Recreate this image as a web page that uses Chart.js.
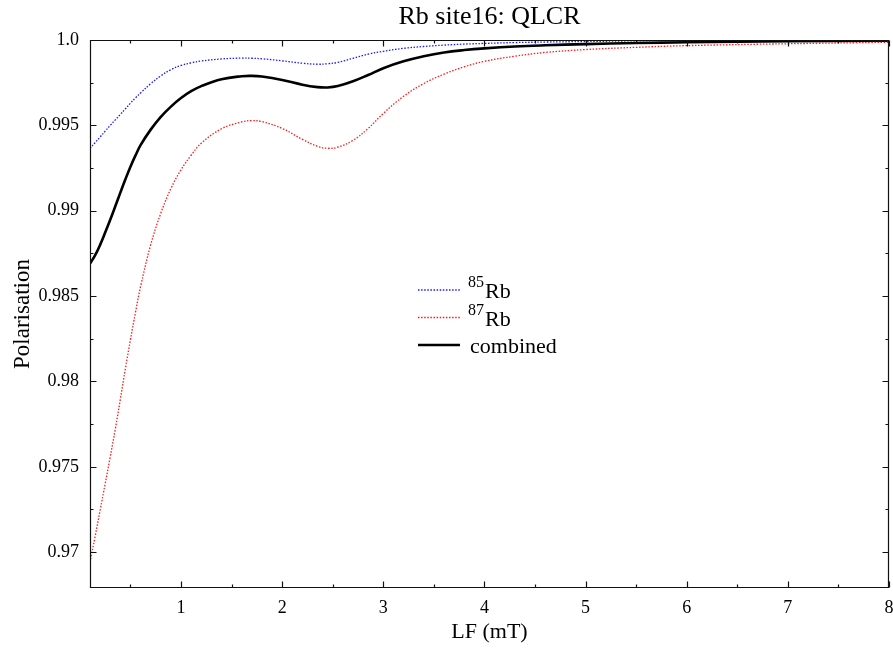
<!DOCTYPE html>
<html>
<head>
<meta charset="utf-8">
<title>Rb site16: QLCR</title>
<script src="https://cdn.jsdelivr.net/npm/chart.js@4.4.1/dist/chart.umd.min.js"></script>
<style>
  html, body { margin: 0; padding: 0; background: #fff; }
  canvas { display: block; }
</style>
</head>
<body>
<canvas id="chart" width="893" height="650"></canvas>
<script>
// Longitudinal field (mT) at which the polarisation curves are sampled
const fieldLF = [0.1, 0.15, 0.2, 0.25, 0.3, 0.35, 0.4, 0.45, 0.5, 0.55, 0.6, 0.7, 0.8, 0.9,
  1.0, 1.1, 1.2, 1.4, 1.6, 1.7, 1.8, 2.0, 2.2, 2.35, 2.45, 2.55, 2.7, 2.85, 3.0, 3.2, 3.4,
  3.6, 3.8, 4.0, 4.3, 4.6, 5.0, 5.5, 6.0, 7.0, 8.0];

// 85Rb polarisation
const rb85 = [0.99365, 0.99398, 0.99432, 0.99466, 0.99500, 0.99532, 0.99564, 0.99597, 0.99630,
  0.99661, 0.99690, 0.99744, 0.99790, 0.99826, 0.99851, 0.99866, 0.99877, 0.99889, 0.99894,
  0.99893, 0.99890, 0.99878, 0.99864, 0.99858, 0.99861, 0.99869, 0.99893, 0.99917, 0.99934,
  0.99951, 0.99962, 0.99970, 0.99976, 0.99980, 0.99985, 0.99988, 0.99991, 0.99995, 0.99997,
  0.99999, 1.00000];

// 87Rb polarisation
const rb87 = [0.96940, 0.97090, 0.97245, 0.97400, 0.97558, 0.97720, 0.97895, 0.98075, 0.98245,
  0.98405, 0.98555, 0.98800, 0.98985, 0.99130, 0.99240, 0.99325, 0.99395, 0.99480, 0.99520,
  0.99528, 0.99522, 0.99482, 0.99418, 0.99377, 0.99366, 0.99372, 0.99412, 0.99482, 0.99570,
  0.99670, 0.99745, 0.99800, 0.99843, 0.99875, 0.99905, 0.99927, 0.99944, 0.99957, 0.99967,
  0.99978, 0.99987];

// Abundance-weighted total
const combined = [0.98690, 0.98738, 0.98800, 0.98872, 0.98947, 0.99026, 0.99106, 0.99184, 0.99258,
  0.99324, 0.99384, 0.99475, 0.99550, 0.99610, 0.99660, 0.99700, 0.99730, 0.99770, 0.99788,
  0.99790, 0.99786, 0.99766, 0.99738, 0.99724, 0.99722, 0.99730, 0.99758, 0.99795, 0.99835,
  0.99875, 0.99905, 0.99927, 0.99941, 0.99951, 0.99962, 0.99969, 0.99976, 0.99982, 0.99987,
  0.99993, 0.99996];

// Axis ticks
const xTickValues = [1, 2, 3, 4, 5, 6, 7, 8];
const xTickLabels = ['1', '2', '3', '4', '5', '6', '7', '8'];
const xMinorTicks = [0.5, 1.5, 2.5, 3.5, 4.5, 5.5, 6.5, 7.5];
const yTickValues = [0.97, 0.975, 0.98, 0.985, 0.99, 0.995, 1.0];
const yTickLabels = ['0.97', '0.975', '0.98', '0.985', '0.99', '0.995', '1.0'];
const yMinorTicks = [0.9725, 0.9775, 0.9825, 0.9875, 0.9925, 0.9975];

// Legend text: mass number (superscript) and name
const seriesMass = ['85', '87', ''];
const seriesName = ['Rb', 'Rb', 'combined'];

const SERIF = '"Liberation Serif", "Times New Roman", serif';

function toPoints(ys) {
  return fieldLF.map((x, i) => ({ x: x, y: ys[i] }));
}

// Border box with inward major/minor tick marks on all four sides
const frameTicks = {
  id: 'frameTicks',
  afterDatasetsDraw(chart, args, o) {
    const { ctx, chartArea: a, scales: { x, y } } = chart;
    const L = Math.round(a.left) + 0.5, R = Math.round(a.right) - 0.5;
    const T = Math.round(a.top) + 0.5, B = Math.round(a.bottom) - 0.5;
    ctx.save();
    ctx.strokeStyle = o.color;
    ctx.lineWidth = o.width;
    ctx.beginPath();
    const seg = (x1, y1, x2, y2) => { ctx.moveTo(x1, y1); ctx.lineTo(x2, y2); };
    const xt = (v, len) => {
      const p = Math.round(x.getPixelForValue(v)) + 0.5;
      seg(p, B, p, B - len); seg(p, T, p, T + len);
    };
    const yt = (v, len) => {
      const p = Math.round(y.getPixelForValue(v)) + 0.5;
      seg(L, p, L + len, p); seg(R, p, R - len, p);
    };
    xTickValues.forEach(v => xt(v, o.major));
    xMinorTicks.forEach(v => xt(v, o.minor));
    yTickValues.forEach(v => yt(v, o.major));
    yMinorTicks.forEach(v => yt(v, o.minor));
    ctx.rect(L, T, R - L, B - T);
    ctx.stroke();
    ctx.restore();
  }
};

// Key with superscripted mass numbers
const isotopeKey = {
  id: 'isotopeKey',
  afterDraw(chart, args, o) {
    const { ctx } = chart;
    chart.data.datasets.forEach((ds, i) => {
      const yy = o.top + i * o.row;
      ctx.save();
      ctx.strokeStyle = ds.borderColor;
      ctx.lineWidth = ds.borderWidth;
      ctx.setLineDash(ds.borderDash || []);
      ctx.beginPath();
      ctx.moveTo(o.left, yy);
      ctx.lineTo(o.left + o.sample, yy);
      ctx.stroke();
      ctx.setLineDash([]);
      ctx.fillStyle = '#000';
      ctx.textAlign = 'left';
      ctx.textBaseline = 'alphabetic';
      let tx = o.left + o.sample + o.gap;
      const base = yy + o.baseline;
      if (seriesMass[i]) {
        ctx.font = o.supSize + 'px ' + SERIF;
        ctx.fillText(seriesMass[i], tx - 2, base - o.raise);
        tx += ctx.measureText(seriesMass[i]).width - 1;
      }
      ctx.font = o.size + 'px ' + SERIF;
      ctx.fillText(seriesName[i], tx, base);
      ctx.restore();
    });
  }
};

new Chart(document.getElementById('chart'), {
  type: 'line',
  data: {
    datasets: [
      {
        label: seriesMass[0] + seriesName[0],
        data: toPoints(rb85),
        borderColor: '#1a1aff',
        borderWidth: 1.3,
        borderDash: [1.5, 1.6],
        pointRadius: 0,
        tension: 0.4,
        order: 1
      },
      {
        label: seriesMass[1] + seriesName[1],
        data: toPoints(rb87),
        borderColor: '#ff1a1a',
        borderWidth: 1.3,
        borderDash: [1.5, 1.6],
        pointRadius: 0,
        tension: 0.4,
        order: 2
      },
      {
        label: seriesName[2],
        data: toPoints(combined),
        borderColor: '#000000',
        borderWidth: 2.6,
        pointRadius: 0,
        tension: 0.4,
        order: 3
      }
    ]
  },
  options: {
    responsive: false,
    animation: false,
    devicePixelRatio: 1,
    events: [],
    layout: { padding: { left: 0, right: 4, top: 0, bottom: 0 } },
    scales: {
      x: {
        type: 'linear',
        min: 0.1,
        max: 8,
        afterBuildTicks: s => { s.ticks = xTickValues.map(v => ({ value: v })); },
        afterFit: s => { s.height = 62; s.paddingLeft = 0; s.paddingRight = 0; },
        grid: { display: false, drawTicks: false },
        border: { display: false },
        ticks: {
          autoSkip: false,
          maxRotation: 0,
          padding: 9,
          color: '#000',
          font: { family: SERIF, size: 18 },
          callback: v => xTickLabels[xTickValues.indexOf(v)]
        },
        title: {
          display: true,
          text: 'LF (mT)',
          color: '#000',
          font: { family: SERIF, size: 22 },
          padding: { top: 0, bottom: 5 }
        }
      },
      y: {
        type: 'linear',
        min: 0.9679,
        max: 1.0,
        afterBuildTicks: s => { s.ticks = yTickValues.map(v => ({ value: v })); },
        afterFit: s => { s.width = 90; s.paddingTop = 0; s.paddingBottom = 0; },
        grid: { display: false, drawTicks: false },
        border: { display: false },
        ticks: {
          autoSkip: false,
          padding: 11,
          color: '#000',
          font: { family: SERIF, size: 18 },
          callback: v => yTickLabels[yTickValues.indexOf(v)]
        },
        title: {
          display: true,
          text: 'Polarisation',
          color: '#000',
          font: { family: SERIF, size: 23 },
          padding: { top: 9, bottom: 0 }
        }
      }
    },
    plugins: {
      legend: { display: false },
      tooltip: { enabled: false },
      title: {
        display: true,
        fullSize: false,
        text: 'Rb site16: QLCR',
        color: '#000',
        font: { family: SERIF, size: 26, weight: 'normal', lineHeight: 1.2 },
        padding: { top: 1.5, bottom: 7.3 }
      },
      frameTicks: { color: '#111', width: 1.2, major: 6, minor: 3 },
      isotopeKey: { left: 418, top: 290, row: 27.5, sample: 42, gap: 10, baseline: 8,
                    size: 22, supSize: 16, raise: 11 }
    }
  },
  plugins: [frameTicks, isotopeKey]
});
</script>
</body>
</html>
